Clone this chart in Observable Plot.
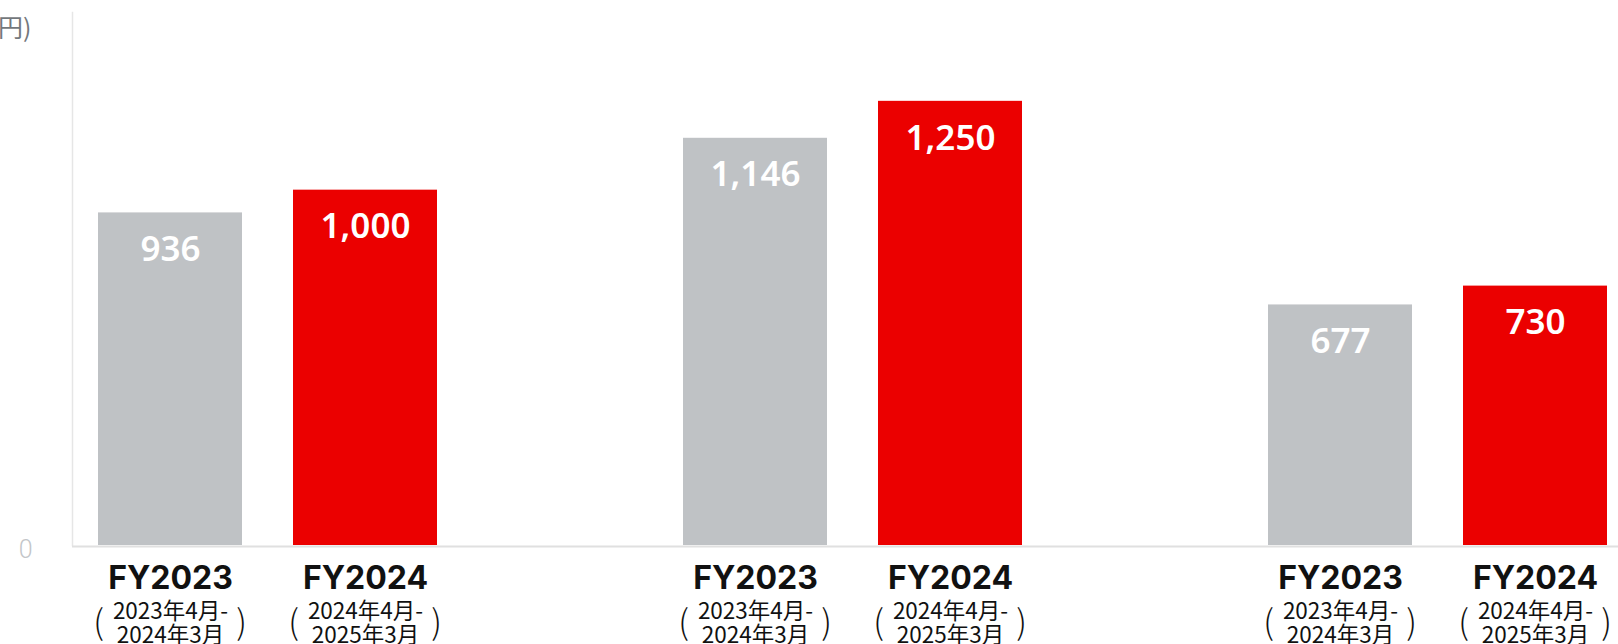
<!DOCTYPE html>
<html>
<head>
<meta charset="utf-8">
<script src="https://cdn.jsdelivr.net/npm/d3@7"></script>
<script src="https://cdn.jsdelivr.net/npm/@observablehq/plot@0.6"></script>
<style>
  html, body { margin: 0; padding: 0; background: #fff; }
  #chart svg { display: block; }
</style>
</head>
<body>
<div id="chart"></div>
<script>
// ---- data ----
const groups = ["g1", "g2", "g3"];
const years = ["FY2023", "FY2024"];
const periods = ["2023年4月-\n2024年3月", "2024年4月-\n2025年3月"];
const valuesFY2023 = [936, 1146, 677];
const valuesFY2024 = [1000, 1250, 730];
const unitLabel = "(億円)";
const yTicks = [0];
const colors = {FY2023: "#bfc2c5", FY2024: "#eb0000"};

// ---- build table ----
const rows = [];
groups.forEach((g, i) => {
  rows.push({key: g + "-" + years[0], year: years[0], period: periods[0], value: valuesFY2023[i]});
  rows.push({key: g + "-" + years[1], year: years[1], period: periods[1], value: valuesFY2024[i]});
});
const domain = [];
groups.forEach((g, i) => {
  domain.push(g + "-" + years[0], g + "-" + years[1]);
  if (i < groups.length - 1) domain.push("gap" + i);
});

const chart = Plot.plot({
  width: 1618,
  height: 644,
  marginTop: 12,
  marginBottom: 99,
  marginLeft: 72,
  marginRight: 0,
  x: {domain, range: [72, 1632], paddingInner: 0.264, paddingOuter: 0.132, axis: null},
  y: {domain: [0, 1500], axis: null, label: null},
  marks: [
    Plot.frame({anchor: "left", stroke: "#e6e6e6", strokeWidth: 1.5}),
    Plot.barY(rows, {x: "key", y: "value", fill: d => colors[d.year]}),
    Plot.ruleY([0], {stroke: "#e0e0e0", strokeWidth: 2, dy: 1}),
    Plot.text(rows, {x: "key", y: "value", text: d => d3.format(",")(d.value), dy: 37, lineAnchor: "middle",
      fill: "#ffffff", fontSize: 35, fontWeight: 600, fontFamily: "Noto Sans"}),
    Plot.text(yTicks, {y: d => d, frameAnchor: "left", dx: -40, dy: 4, textAnchor: "end", lineAnchor: "middle",
      fill: "#c3c6c9", fontSize: 25, fontFamily: "Roboto", fontWeight: 300}),
    Plot.text([unitLabel], {frameAnchor: "top-left", dx: -41, dy: 16, textAnchor: "end", lineAnchor: "middle",
      fill: "#74787c", fontSize: 25, fontFamily: "Noto Sans CJK JP"}),
    Plot.text(rows, {x: "key", frameAnchor: "bottom", text: "year", dy: 33, lineAnchor: "middle",
      fill: "#111", fontSize: 32, fontWeight: 700, fontFamily: "Inter"}),
    Plot.text(rows, {x: "key", frameAnchor: "bottom", text: "period", dy: 78, lineAnchor: "middle", lineHeight: 1.08,
      fill: "#111", fontSize: 22.5, fontFamily: "Noto Sans CJK JP"}),
    Plot.text(rows, {x: "key", frameAnchor: "bottom", text: () => "(", dx: -72, dy: 78, lineAnchor: "middle",
      fill: "#111", fontSize: 34, fontWeight: 300, fontFamily: "Noto Sans CJK JP"}),
    Plot.text(rows, {x: "key", frameAnchor: "bottom", text: () => ")", dx: 71, dy: 78, lineAnchor: "middle",
      fill: "#111", fontSize: 34, fontWeight: 300, fontFamily: "Noto Sans CJK JP"})
  ]
});
document.getElementById("chart").appendChild(chart);
</script>
</body>
</html>
